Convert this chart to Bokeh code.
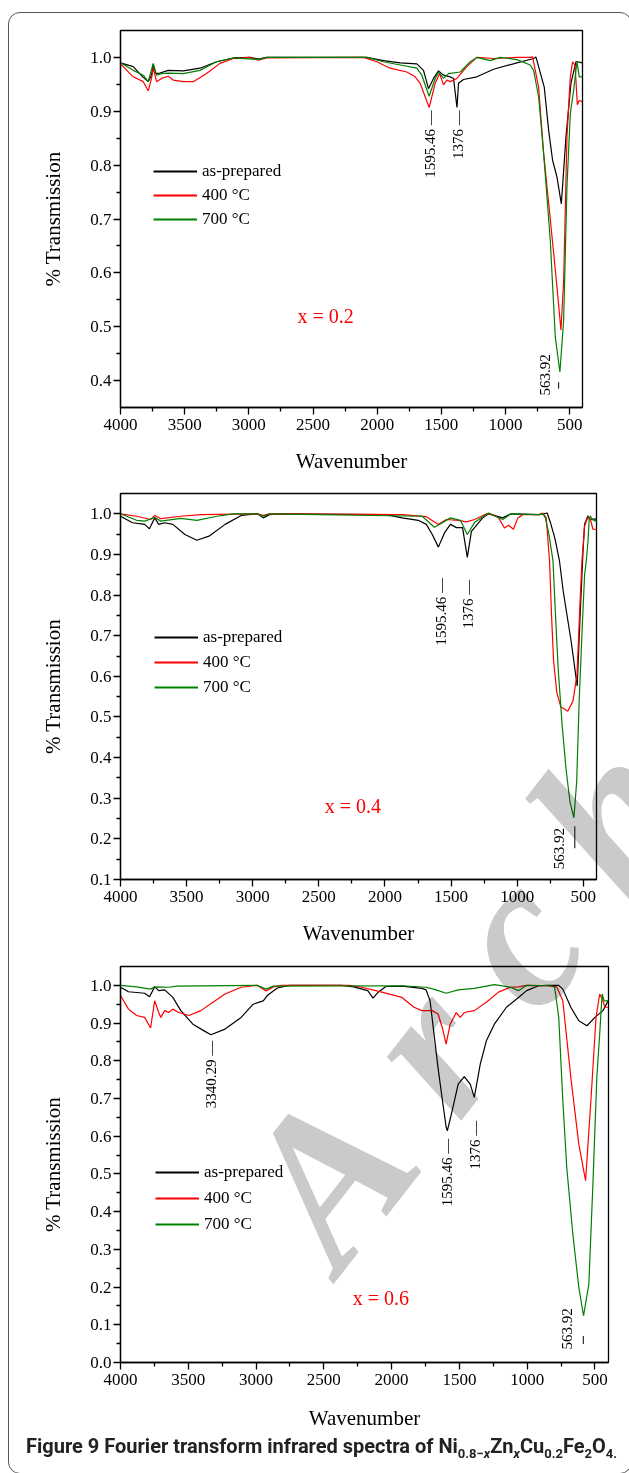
import numpy as np
from bokeh.plotting import figure
from bokeh.layouts import column
from bokeh.models import Range1d, Legend, LegendItem, Div, FixedTicker, PrintfTickFormatter
from bokeh.core.properties import value
from bokeh.embed import file_html
from bokeh.resources import INLINE

# ---------------- data ----------------
series_names = ["as-prepared", "400 \u00b0C", "700 \u00b0C"]
series_colors = ["#000000", "#ff0000", "#008000"]

# x = 0.2
p1_black_wn = [4000, 3901, 3823, 3784, 3758, 3745, 3724, 3693, 3628, 3511, 3381, 3251, 3121, 2991, 2926, 2861,
               2081, 1951, 1821, 1691, 1639, 1600, 1561, 1522, 1483, 1431, 1405, 1378, 1366, 1327, 1223, 1093,
               911, 781, 763, 698, 664, 633, 599, 565, 529, 490, 451, 438, 402]
p1_black = [0.990, 0.983, 0.963, 0.955, 0.967, 0.987, 0.970, 0.971, 0.976, 0.975, 0.980, 0.992, 0.999, 1.000, 0.997, 1.000,
            1.000, 0.994, 0.990, 0.988, 0.976, 0.942, 0.961, 0.975, 0.967, 0.964, 0.961, 0.907, 0.952, 0.959, 0.964, 0.978,
            0.990, 0.998, 1.001, 0.945, 0.865, 0.809, 0.778, 0.728, 0.852, 0.952, 0.992, 0.992, 0.990]
p1_red_wn = [4000, 3901, 3823, 3784, 3758, 3745, 3719, 3680, 3628, 3589, 3511, 3433, 3329, 3225, 3121, 2991, 2926, 2861,
             2107, 2003, 1899, 1769, 1704, 1665, 1595, 1548, 1514, 1483, 1457, 1431, 1379, 1301, 1223, 1093, 911, 807,
             789, 742, 703, 651, 599, 568, 547, 521, 495, 477, 458, 440, 425, 402]
p1_red = [0.988, 0.964, 0.955, 0.938, 0.961, 0.980, 0.955, 0.961, 0.965, 0.958, 0.955, 0.955, 0.970, 0.989, 0.998, 1.000, 0.995, 0.999,
          1.000, 0.992, 0.980, 0.973, 0.964, 0.952, 0.907, 0.952, 0.970, 0.949, 0.958, 0.955, 0.961, 0.983, 1.000, 0.998, 1.000, 1.000,
          1.001, 0.945, 0.822, 0.700, 0.574, 0.494, 0.585, 0.853, 0.964, 0.992, 0.985, 0.912, 0.920, 0.918]
p1_green_wn = [4000, 3901, 3823, 3784, 3745, 3719, 3680, 3628, 3511, 3381, 3251, 3121, 2926, 2861, 2081, 1951, 1821, 1691,
               1652, 1595, 1548, 1522, 1483, 1444, 1353, 1275, 1223, 1119, 1041, 911, 807, 781, 742, 703, 651, 612, 576,
               547, 521, 495, 469, 443, 425, 402]
p1_green = [0.990, 0.976, 0.967, 0.955, 0.989, 0.967, 0.970, 0.971, 0.970, 0.976, 0.992, 0.999, 0.996, 1.000, 1.000, 0.992, 0.986, 0.980,
            0.967, 0.928, 0.961, 0.973, 0.961, 0.970, 0.973, 0.992, 1.000, 0.994, 1.000, 0.996, 0.986, 0.976, 0.927, 0.822, 0.660, 0.481, 0.416,
            0.512, 0.760, 0.896, 0.939, 0.992, 0.964, 0.964]

# x = 0.4
p2_black_wn = [4000, 3909, 3817, 3781, 3741, 3711, 3665, 3604, 3513, 3422, 3331, 3209, 3087, 2965, 2920, 2874, 2783,
               1992, 1870, 1748, 1687, 1642, 1596, 1550, 1505, 1459, 1413, 1377, 1346, 1261, 1216, 1109, 1048, 835,
               773, 750, 715, 680, 652, 592, 546, 525, 502, 490, 477, 466, 455, 394]
p2_black = [0.994, 0.978, 0.974, 0.963, 0.990, 0.974, 0.978, 0.974, 0.949, 0.935, 0.945, 0.974, 0.996, 1.000, 0.990, 0.998, 1.000,
            0.998, 0.990, 0.984, 0.974, 0.949, 0.918, 0.953, 0.974, 0.966, 0.966, 0.893, 0.957, 0.990, 1.000, 0.990, 1.000, 0.998,
            1.002, 0.980, 0.940, 0.884, 0.810, 0.687, 0.576, 0.740, 0.908, 0.975, 0.985, 0.995, 0.987, 0.987]
p2_red_wn = [4000, 3878, 3772, 3741, 3696, 3544, 3391, 2965, 2920, 2874, 1870, 1687, 1596, 1535, 1444, 1383, 1322, 1231,
             1185, 1140, 1096, 1065, 1028, 995, 957, 835, 805, 780, 755, 740, 725, 700, 670, 617, 578, 547, 525, 510,
             490, 465, 445, 427, 394]
p2_red = [1.000, 0.994, 0.986, 0.996, 0.988, 0.994, 0.998, 1.000, 0.996, 1.000, 0.998, 0.993, 0.974, 0.986, 0.984, 0.980, 0.986, 1.000,
          0.998, 0.990, 0.965, 0.972, 0.962, 0.990, 0.998, 0.998, 1.002, 0.990, 0.884, 0.750, 0.640, 0.560, 0.525, 0.514, 0.539, 0.605,
          0.780, 0.884, 0.970, 0.992, 0.985, 0.962, 0.962]
p2_green_wn = [4000, 3878, 3817, 3741, 3696, 3544, 3422, 3270, 3148, 2965, 2920, 2874, 1718, 1626, 1581, 1505, 1429, 1377,
               1322, 1216, 1109, 1048, 835, 805, 787, 760, 729, 710, 690, 660, 630, 600, 571, 550, 530, 508, 490, 477,
               465, 455, 447, 436, 394]
p2_green = [1.000, 0.984, 0.982, 0.991, 0.982, 0.989, 0.984, 0.994, 1.000, 1.000, 0.994, 1.000, 0.994, 0.967, 0.975, 0.990, 0.984, 0.949,
            0.979, 1.002, 0.986, 1.000, 0.998, 1.000, 0.990, 0.950, 0.884, 0.750, 0.620, 0.480, 0.370, 0.290, 0.252, 0.340, 0.550, 0.720,
            0.850, 0.884, 0.930, 0.987, 0.995, 0.987, 0.980]

# x = 0.6
p3_black_wn = [4000, 3941, 3822, 3786, 3748, 3718, 3674, 3614, 3555, 3466, 3377, 3333, 3229, 3110, 3021, 2947, 2917, 2843,
               2754, 2369, 2280, 2176, 2137, 2102, 2042, 1924, 1776, 1746, 1716, 1687, 1657, 1627, 1598, 1589, 1553, 1509,
               1464, 1420, 1390, 1346, 1301, 1242, 1153, 1064, 1004, 915, 856, 767, 737, 678, 619, 559, 500, 441, 402]
p3_black = [0.995, 0.983, 0.979, 0.970, 0.996, 0.986, 0.988, 0.968, 0.933, 0.897, 0.878, 0.869, 0.884, 0.915, 0.950, 0.959, 0.973, 0.993,
            1.000, 1.000, 0.996, 0.986, 0.966, 0.981, 0.997, 0.998, 0.992, 0.988, 0.959, 0.870, 0.780, 0.700, 0.625, 0.614, 0.668, 0.738,
            0.758, 0.738, 0.703, 0.791, 0.853, 0.897, 0.942, 0.968, 0.986, 0.999, 1.000, 1.000, 0.990, 0.942, 0.906, 0.893, 0.915, 0.933, 0.959]
p3_red_wn = [4000, 3941, 3881, 3822, 3778, 3748, 3718, 3703, 3674, 3644, 3614, 3570, 3496, 3407, 3318, 3229, 3110, 2992,
             2926, 2873, 2814, 2309, 2220, 2072, 1924, 1835, 1776, 1701, 1657, 1627, 1598, 1568, 1523, 1494, 1464, 1390,
             1301, 1212, 1123, 1064, 1004, 856, 782, 737, 678, 619, 569, 530, 492, 465, 441, 427, 402]
p3_red = [0.973, 0.937, 0.920, 0.915, 0.887, 0.959, 0.928, 0.915, 0.933, 0.928, 0.937, 0.928, 0.920, 0.933, 0.955, 0.977, 0.995, 1.000,
          0.985, 0.996, 1.000, 1.000, 0.995, 0.982, 0.968, 0.942, 0.933, 0.933, 0.924, 0.889, 0.844, 0.897, 0.928, 0.915, 0.928, 0.933,
          0.955, 0.982, 0.995, 0.996, 1.000, 0.999, 0.996, 0.959, 0.756, 0.579, 0.482, 0.694, 0.915, 0.977, 0.959, 0.942, 0.942]
p3_green_wn = [4000, 3881, 3778, 3748, 3644, 3585, 2992, 2926, 2873, 1924, 1746, 1672, 1598, 1509, 1390, 1242, 1123, 1064,
               1004, 824, 797, 767, 737, 708, 663, 619, 584, 545, 515, 486, 465, 447, 432, 402]
p3_green = [1.000, 0.996, 0.990, 0.996, 0.995, 0.998, 1.000, 0.990, 0.998, 0.999, 0.995, 0.988, 0.979, 0.988, 0.992, 1.002, 0.995, 0.986,
            1.000, 0.999, 0.995, 0.915, 0.694, 0.517, 0.340, 0.199, 0.124, 0.208, 0.473, 0.756, 0.871, 0.977, 0.959, 0.959]

panel_labels = ["x = 0.2", "x = 0.4", "x = 0.6"]
panel_label_pos = [(2401, 0.519), (2243, 0.280), (2080, 0.170)]

# peak annotations (rotated text anchored at its upper end)
p1_ann_text = ["1595.46 \u2014", "1376 \u2014", "563.92"]
p1_ann_x = [1591, 1371, 693]
p1_ann_y = [0.902, 0.902, 0.449]
p2_ann_text = ["1595.46 \u2014", "1376 \u2014", "563.92"]
p2_ann_x = [1577, 1373, 686]
p2_ann_y = [0.842, 0.838, 0.227]
p3_ann_text = ["3340.29 \u2014", "1595.46 \u2014", "1376 \u2014", "563.92"]
p3_ann_x = [3329, 1594, 1386, 704]
p3_ann_y = [0.853, 0.593, 0.641, 0.144]
# short marker bars under 563.92 peak: (x, y_top, y_bottom)
p1_bar = (586, 0.397, 0.385)
p2_bar = (564, 0.231, 0.177)
p3_bar = (586, 0.070, 0.049)

x_ticks = [4000, 3500, 3000, 2500, 2000, 1500, 1000, 500]
x_minor = [3750, 3250, 2750, 2250, 1750, 1250, 750]
p1_yticks = [0.4, 0.5, 0.6, 0.7, 0.8, 0.9, 1.0]
p2_yticks = [0.1, 0.2, 0.3, 0.4, 0.5, 0.6, 0.7, 0.8, 0.9, 1.0]
p3_yticks = [0.0, 0.1, 0.2, 0.3, 0.4, 0.5, 0.6, 0.7, 0.8, 0.9, 1.0]

SERIF = "Liberation Serif"


def make_panel(frame_w, frame_h, mb_top, mb_right, mb_bottom, ymin, yticks, series, legend_loc, legend_spacing,
               label, label_pos, ann_x, ann_y, ann_text, bar, xlab_standoff):
    p = figure(frame_width=frame_w, frame_height=frame_h, x_range=Range1d(4000, 400), y_range=Range1d(ymin, 1.05),
               output_backend="svg", toolbar_location=None,
               min_border_left=111, min_border_right=mb_right, min_border_top=mb_top,
               min_border_bottom=mb_bottom)
    p.xgrid.visible = False
    p.ygrid.visible = False
    p.outline_line_color = "black"
    p.outline_line_width = 1.3
    p.outline_line_alpha = 1.0
    p.background_fill_color = None
    p.border_fill_color = None

    ymin_t = [round(t + 0.05, 2) for t in yticks[:-1]]
    p.xaxis.ticker = FixedTicker(ticks=x_ticks, minor_ticks=x_minor)
    p.yaxis.ticker = FixedTicker(ticks=yticks, minor_ticks=ymin_t)
    p.yaxis.formatter = PrintfTickFormatter(format="%.1f")
    p.axis.axis_line_width = 1.3
    p.axis.major_tick_line_width = 1.3
    p.axis.minor_tick_line_width = 1.3
    p.axis.major_tick_in = 0
    p.axis.major_tick_out = 7
    p.axis.minor_tick_in = 0
    p.axis.minor_tick_out = 4
    p.axis.major_label_text_font = SERIF
    p.axis.major_label_text_font_size = "17px"
    p.axis.major_label_text_color = "black"
    p.axis.axis_label_text_font = SERIF
    p.axis.axis_label_text_font_size = "21px"
    p.axis.axis_label_text_font_style = "normal"
    p.axis.axis_label_text_color = "black"
    p.xaxis.axis_label = "Wavenumber"
    p.yaxis.axis_label = "% Transmission"
    p.xaxis.major_label_standoff = 4
    p.xaxis.axis_label_standoff = xlab_standoff
    p.yaxis.major_label_standoff = 2
    p.yaxis.axis_label_standoff = 22

    items = []
    for (wn, vals), name, col in zip(series, series_names, series_colors):
        p.line(wn, vals, line_color=col, line_width=1.2)
        # legend key: a one-point line in the series colour (draws nothing in the frame)
        key = p.line(wn[:1], vals[:1], line_color=col, line_width=1.8)
        items.append(LegendItem(label=name, renderers=[key]))
    leg = Legend(items=items, location=legend_loc, border_line_alpha=0, background_fill_alpha=0,
                 label_text_font=SERIF, label_text_font_size="17px", label_text_color="black",
                 glyph_width=44, glyph_height=20, label_height=20, spacing=legend_spacing,
                 padding=0, margin=0, label_standoff=5)
    p.add_layout(leg)

    p.text(x=[label_pos[0]], y=[label_pos[1]], text=[label], text_color="#ff0000",
           text_font=value(SERIF), text_font_size="20px", text_align="center", text_baseline="middle")
    p.text(x=ann_x, y=ann_y, text=ann_text, angle=np.pi / 2, text_align="right", text_baseline="middle",
           text_font=value(SERIF), text_font_size="15px", text_color="black")
    p.segment(x0=[bar[0]], y0=[bar[1]], x1=[bar[0]], y1=[bar[2]], line_color="black", line_width=1)
    return p


p1 = make_panel(462, 377, 17, 39, 68, 0.35, p1_yticks,
                [(p1_black_wn, p1_black), (p1_red_wn, p1_red), (p1_green_wn, p1_green)],
                (33, 178), 4, panel_labels[0], panel_label_pos[0], p1_ann_x, p1_ann_y, p1_ann_text, p1_bar, 16)
p2 = make_panel(476, 386, 18, 25, 76, 0.1, p2_yticks,
                [(p2_black_wn, p2_black), (p2_red_wn, p2_red), (p2_green_wn, p2_green)],
                (34, 182), 5, panel_labels[1], panel_label_pos[1], p2_ann_x, p2_ann_y, p2_ann_text, p2_bar, 16)
p3 = make_panel(488, 396, 11, 13, 71, 0.0, p3_yticks,
                [(p3_black_wn, p3_black), (p3_red_wn, p3_red), (p3_green_wn, p3_green)],
                (35, 128), 6, panel_labels[2], panel_label_pos[2], p3_ann_x, p3_ann_y, p3_ann_text, p3_bar, 18)

caption_html = (
    '<div style="position:relative;width:612px;height:30px;">'
    '<div style="position:absolute;left:12px;top:-6px;font-family:Roboto;font-weight:700;font-size:20px;'
    'color:#222;white-space:nowrap;">Figure 9 Fourier transform infrared spectra of '
    'Ni<sub style="font-size:13px">0.8\u2212<i>x</i></sub>Zn<sub style="font-size:13px"><i>x</i></sub>'
    'Cu<sub style="font-size:13px">0.2</sub>Fe<sub style="font-size:13px">2</sub>O<sub style="font-size:13px">4.</sub></div>'
    '<div style="position:absolute;left:186px;top:-272px;transform-origin:0 0;transform:rotate(-52deg);'
    'font-family:\'Liberation Serif\';font-style:italic;font-weight:700;font-size:213px;line-height:1;'
    'letter-spacing:50px;color:#cacaca;mix-blend-mode:multiply;white-space:nowrap;pointer-events:none;'
    'z-index:10;">Archive</div>'
    '</div>'
)
cap = Div(text=caption_html, width=612, height=30, styles={"overflow": "visible"})

layout = column(p1, p2, p3, cap, spacing=0, margin=(12, 0, 0, 8),
                styles={"border": "1.5px solid #555555", "border-radius": "12px", "overflow": "visible"})

open("out.html", "w").write(file_html(layout, INLINE))
